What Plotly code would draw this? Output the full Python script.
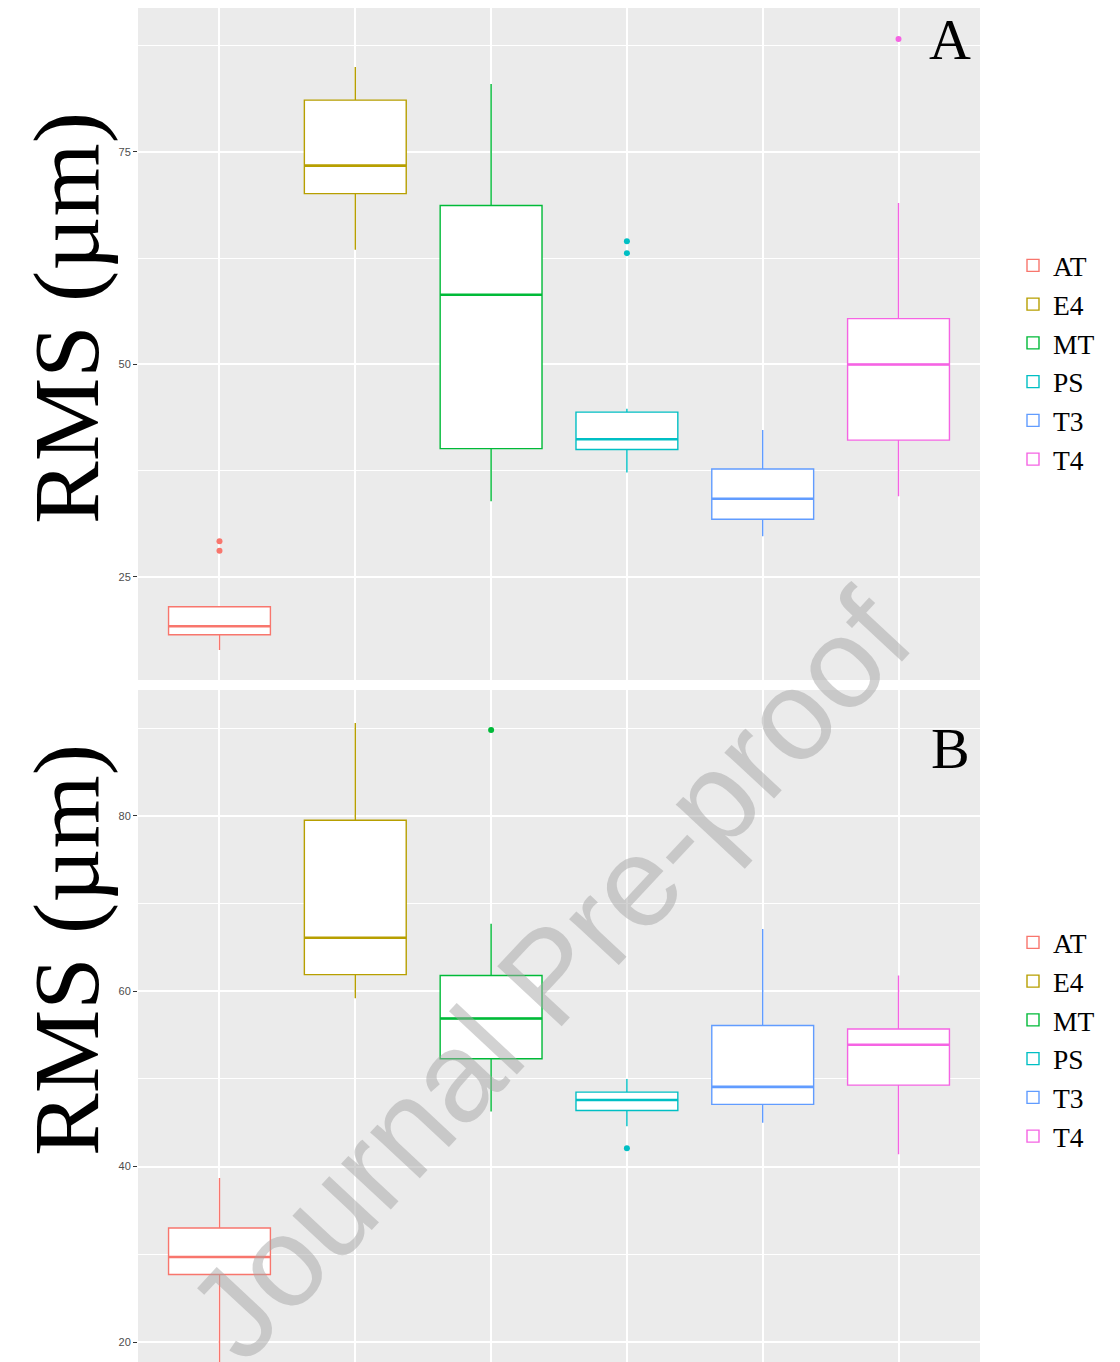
import plotly.graph_objects as go

categories = ["AT", "E4", "MT", "PS", "T3", "T4"]
colors = ["#F8766D", "#B79F00", "#00BA38", "#00BFC4", "#619CFF", "#F564E3"]

# Panel A
q1_a = [18.2, 70.1, 40.1, 40.0, 31.8, 41.1]
med_a = [19.2, 73.4, 58.2, 41.2, 34.2, 50.0]
q3_a = [21.5, 81.1, 68.7, 44.4, 37.7, 55.4]
lo_a = [16.4, 63.5, 33.9, 37.3, 29.8, 34.5]
hi_a = [21.5, 85.0, 83.0, 44.8, 42.3, 69.0]
out_a = {"AT": [28.1, 29.2], "PS": [63.1, 64.5], "T4": [88.3]}

# Panel B
q1_b = [27.7, 61.9, 52.3, 46.4, 47.1, 49.3]
med_b = [29.7, 66.1, 56.9, 47.6, 49.1, 53.9]
q3_b = [33.0, 79.5, 61.8, 48.5, 56.1, 55.7]
lo_b = [14.0, 59.2, 46.3, 44.6, 45.0, 41.4]
hi_b = [38.7, 90.6, 67.7, 50.0, 67.1, 61.8]
out_b = {"MT": [89.8], "PS": [42.1]}

ticks_a = [25, 50, 75]
ticks_b = [20, 40, 60, 80]

fig = go.Figure()

def add_panel(q1, med, q3, lo, hi, outs, xa, ya, legend):
    for i, c in enumerate(categories):
        fig.add_trace(go.Box(
            x=[c], q1=[q1[i]], median=[med[i]], q3=[q3[i]],
            lowerfence=[lo[i]], upperfence=[hi[i]],
            name=c, width=0.75, fillcolor="white", whiskerwidth=0,
            line=dict(color=colors[i], width=1.4),
            boxpoints=False, xaxis=xa, yaxis=ya, legend=legend,
            hoverinfo="skip"))
    # thicker median line (ggplot style)
    for i, c in enumerate(categories):
        fig.add_trace(go.Box(
            x=[c], q1=[med[i]], median=[med[i]], q3=[med[i]],
            lowerfence=[med[i]], upperfence=[med[i]],
            name=c, width=0.75, fillcolor="rgba(0,0,0,0)", whiskerwidth=0,
            line=dict(color=colors[i], width=2.6), showlegend=False,
            boxpoints=False, xaxis=xa, yaxis=ya, hoverinfo="skip"))
    for i, c in enumerate(categories):
        if c in outs:
            fig.add_trace(go.Scatter(
                x=[c] * len(outs[c]), y=outs[c], mode="markers",
                marker=dict(color=colors[i], size=6), showlegend=False,
                xaxis=xa, yaxis=ya, hoverinfo="skip"))

add_panel(q1_a, med_a, q3_a, lo_a, hi_a, out_a, "x", "y", "legend")
add_panel(q1_b, med_b, q3_b, lo_b, hi_b, out_b, "x2", "y2", "legend2")

# page has an 8px body margin; figure occupies page px 8..1120, 8..1362
W, H = 1112, 1354

def py(pix):
    return (1362 - pix) / H

def px(pix):
    return (pix - 138) / 842

xcommon = dict(type="category", categoryorder="array", categoryarray=categories,
               range=[-0.6, 5.6], showticklabels=False, ticks="",
               showgrid=True, gridcolor="white", gridwidth=1.5, zeroline=False,
               showline=False)
ycommon = dict(showgrid=True, gridcolor="white", gridwidth=1.5, zeroline=False,
               ticks="outside", ticklen=4, tickcolor="#333333", tickwidth=1,
               tickfont=dict(family="Liberation Sans, Arial", size=11, color="#4D4D4D"),
               showline=False)

legfont = dict(family="Liberation Serif", size=27.5, color="black")

fig.update_layout(
    width=W, height=H,
    margin=dict(l=130, r=140, t=0, b=0),
    paper_bgcolor="white", plot_bgcolor="#EBEBEB",
    boxmode="overlay",
    xaxis=dict(domain=[0, 1], anchor="y", **xcommon),
    xaxis2=dict(domain=[0, 1], anchor="y2", **xcommon),
    yaxis=dict(domain=[py(680), 1], anchor="x", range=[12.88, 91.94],
               tickvals=ticks_a,
               minor=dict(showgrid=True, gridcolor="white", gridwidth=0.7,
                          tick0=12.5, dtick=12.5, ticks=""),
               **ycommon),
    yaxis2=dict(domain=[0, py(690)], anchor="x2", range=[17.72, 94.36],
                tickvals=ticks_b,
                minor=dict(showgrid=True, gridcolor="white", gridwidth=0.7,
                           tick0=10, dtick=10, ticks=""),
                **ycommon),
    legend=dict(x=px(1013), y=py(241), xanchor="left", yanchor="top",
                font=legfont, bgcolor="rgba(0,0,0,0)", tracegroupgap=0, itemwidth=30),
    legend2=dict(x=px(1013), y=py(918), xanchor="left", yanchor="top",
                 font=legfont, bgcolor="rgba(0,0,0,0)", tracegroupgap=0, itemwidth=30),
    showlegend=True,
)

title_font = dict(family="Liberation Serif", size=94, color="black")
fig.add_annotation(text="RMS (µm)", xref="paper", yref="paper",
                   x=px(66), y=py(318), textangle=-90, showarrow=False,
                   font=title_font, xanchor="center", yanchor="middle")
fig.add_annotation(text="RMS (µm)", xref="paper", yref="paper",
                   x=px(66), y=py(950), textangle=-90, showarrow=False,
                   font=title_font, xanchor="center", yanchor="middle")

lab_font = dict(family="Liberation Serif", size=58, color="black")
fig.add_annotation(text="A", xref="paper", yref="paper", x=px(950), y=py(40),
                   showarrow=False, font=lab_font, xanchor="center", yanchor="middle")
fig.add_annotation(text="B", xref="paper", yref="paper", x=px(950), y=py(748),
                   showarrow=False, font=lab_font, xanchor="center", yanchor="middle")

fig.add_annotation(text="Journal Pre-proof", xref="paper", yref="paper",
                   x=px(548), y=py(975), textangle=-47, showarrow=False,
                   font=dict(family="Liberation Sans, Arial", size=128,
                             color="rgba(165,165,165,0.5)"),
                   xanchor="center", yanchor="middle")

fig.write_html("out.html")
